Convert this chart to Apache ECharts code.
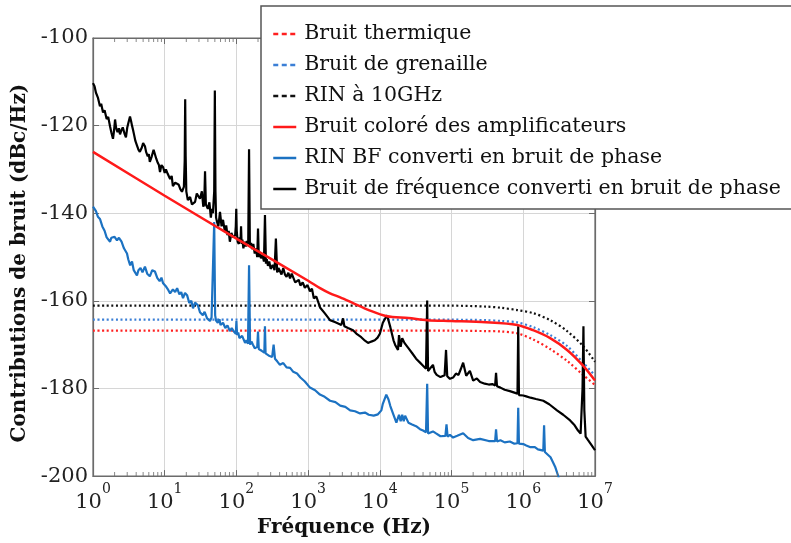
<!DOCTYPE html>
<html><head><meta charset="utf-8">
<script src="https://cdn.jsdelivr.net/npm/echarts@6/dist/echarts.min.js"></script>
<style>html,body{margin:0;padding:0;background:#fff}#c{width:791px;height:543px}</style>
</head><body><div id="c"></div>
<script>
// ---- Data ----
const seriesNames = ['Bruit thermique','Bruit de grenaille','RIN à 10GHz','Bruit coloré des amplificateurs','RIN BF converti en bruit de phase','Bruit de fréquence converti en bruit de phase'];
const xTickExponents = [0,1,2,3,4,5,6,7];
const yTicks = [-200,-180,-160,-140,-120,-100];

const thermFreq = [1, 1e5, 3e5, 5e5, 8.2e5, 1.37e6, 2.37e6, 4.08e6, 6.82e6, 1e7];
const thermDb   = [-166.8, -166.8, -166.9, -167.0, -167.4, -168.8, -171.0, -173.7, -176.9, -179.2];

const shotFreq = [1, 1e5, 3e5, 5e5, 8.2e5, 1.37e6, 2.37e6, 4.08e6, 6.82e6, 1e7];
const shotDb   = [-164.3, -164.3, -164.4, -164.6, -164.9, -166.0, -167.8, -170.3, -174.1, -177.0];

const rinFreq = [1, 1e5, 3e5, 5e5, 8.2e5, 1.37e6, 2.37e6, 4.08e6, 6.82e6, 1e7];
const rinDb   = [-161.1, -161.1, -161.3, -161.6, -162.1, -162.8, -164.4, -166.9, -170.3, -173.9];

const ampFreq = [1, 10, 100, 1000, 1465, 2020, 2800, 4230, 7000, 12600, 25000, 45700, 1e5, 3e5, 8.2e5, 1.37e6, 2.37e6, 4.08e6, 6.82e6, 1e7];
const ampDb   = [-126, -136, -145.8, -155.4, -157.1, -158.3, -159.2, -160.5, -162.1, -163.5, -163.9, -164.4, -164.6, -164.9, -165.5, -166.7, -168.5, -171.2, -174.8, -178.2];

const rinBfFreq = [1,1.05,1.1,1.17,1.25,1.35,1.45,1.55,1.65,1.73,1.8,1.9,2.0,2.16,2.3,2.5,2.7,2.98,3.1,3.3,3.5,3.7,4.1,4.3,4.6,4.9,5.3,5.7,6.2,6.7,7.3,7.9,8.5,9.0,9.5,10.5,11.2,11.9,13,14,14.9,16,17,18,19.2,20.5,22,23.5,24.8,26.5,29,31,34,36,39,42.8,45,47.5,49,50.5,52,55,58,60,65,70,75,81,86,92,98,100,102,106,110,120,132,138,145,150,155,162,170,180,195,200,205,215,225,235,245,250,255,270,290,305,315,330,345,370,404,450,500,560,620,700,780,900,1060,1250,1460,1700,2020,2400,2800,3300,3850,4500,5300,6200,7000,8200,9400,10500,11000,12300,13200,14000,15500,17000,18500,19500,20500,21500,22500,25000,28100,32000,36300,40000,44000,45700,47000,50000,55000,60000,70000,82000,85000,88000,95000,105000,120000,145000,170000,200000,250000,330000,405000,417000,430000,480000,550000,650000,750000,830000,850000,870000,1e6,1.1e6,1.26e6,1.45e6,1.6e6,1.9e6,1.95e6,2.0e6,2.1e6,2.4e6,2.8e6,3.1e6,3.3e6];
const rinBfDb   = [-138.5,-139,-139.5,-140.8,-141.3,-143,-144,-145.5,-145.8,-146.5,-145.6,-146,-145.4,-146.2,-145.6,-146.5,-148,-149.2,-150.5,-151.9,-151,-153,-154.2,-153,-152.5,-153.5,-152.2,-153.8,-154.4,-153,-153.3,-154.8,-155.5,-154.7,-156,-156.8,-157.5,-158.3,-157.4,-158,-157.1,-158.5,-158,-159.4,-158.2,-158.7,-160.5,-160,-161.7,-160.4,-161,-162.6,-163.3,-162.5,-164,-164.6,-163.8,-163.5,-142,-163.3,-164.5,-165,-164.2,-165.5,-165,-166.2,-165.6,-166.9,-166.2,-167,-167.5,-164.6,-167.8,-167.2,-168.5,-168,-169.6,-169,-169.8,-151.9,-170,-169.3,-170,-170.8,-170.5,-167,-171,-170.6,-171.4,-171,-171.8,-165.8,-172,-171.6,-172.6,-172.2,-172.8,-170,-173.2,-173.8,-174.6,-174.2,-175.2,-175.3,-176.2,-176.6,-177.5,-178.4,-179.8,-180.4,-181.4,-181.9,-182.8,-183.1,-183.9,-184.2,-185,-185.2,-185.7,-185.5,-186,-186.2,-185.9,-185,-183.5,-181.4,-182.5,-184,-186,-187.8,-186,-187.5,-186,-187.5,-186.2,-187.8,-188.2,-188.6,-189.3,-189.6,-190,-178.9,-190.3,-190.5,-189.8,-190.2,-190.9,-190.8,-188.2,-191,-190.6,-191.2,-190.8,-190.2,-191.3,-191.8,-191.5,-192,-192,-189.3,-192.1,-191.8,-192.3,-192.1,-192.6,-192.5,-184.4,-192.6,-192.7,-193,-193.4,-193.4,-193.9,-194.2,-188.4,-194.5,-194.6,-195.7,-198,-200.2,-203];

const freqNoiseFreq = [1,1.05,1.1,1.17,1.25,1.3,1.38,1.45,1.55,1.63,1.73,1.8,1.9,1.97,2.03,2.1,2.2,2.3,2.38,2.5,2.6,2.75,2.88,3.0,3.1,3.28,3.4,3.5,3.62,3.73,3.9,4.1,4.3,4.5,4.8,5.0,5.3,5.5,5.8,6.0,6.2,6.6,7.0,7.3,7.6,8.0,8.3,8.6,9.0,9.5,10,10.4,11,11.9,12.5,13.0,14,14.9,15.7,16.5,17.4,18.5,19,19.3,19.6,20,21,22.6,24,26.5,28,31,33,34.5,35.5,36.5,37.5,40,42,44,45.5,47,49,50,51,52,53.7,56,59,62,65,69,72,75,78,81,85,90,96,98,99.5,101,104,108,111,114,116,118,121,125,130,135,140,146,150,154,160,165,172,180,187,195,200,205,212,220,230,242,250,258,265,275,287,300,320,340,355,370,385,400,425,450,475,500,530,560,590,620,660,700,740,780,840,900,980,1060,1130,1200,1300,1465,1700,2020,2400,2900,3070,3200,3600,4230,4800,5500,6200,6840,7600,8500,9300,10000,11000,12600,14000,15500,16500,17900,18500,19500,20500,22000,25000,28100,32000,36300,40000,44000,45700,47000,50000,55000,58000,62000,70000,80000,83700,87000,95000,105000,115000,125000,135000,145000,160000,180000,200000,225000,250000,290000,330000,370000,405000,417000,430000,480000,550000,650000,770000,830000,850000,870000,1e6,1.1e6,1.26e6,1.5e6,1.9e6,2.3e6,2.95e6,3.6e6,4.5e6,5.2e6,5.8e6,6.3e6,6.7e6,6.9e6,7.1e6,7.4e6,8e6,9e6,1e7];
const freqNoiseDb   = [-110.3,-111,-112.5,-113.6,-115.6,-115,-117,-116.5,-118.5,-118,-120.2,-121.5,-123,-121,-118.6,-120.5,-121.5,-120.6,-122,-121,-120.4,-121.8,-122.7,-120.5,-119.5,-117.9,-119,-120,-121,-122,-123.5,-124.5,-125.5,-126,-125,-124,-124.7,-126,-127,-126.5,-128.3,-127,-125.5,-125.9,-127.5,-128.5,-129,-130.6,-129,-129.5,-130.8,-130,-131,-132.2,-131.5,-133.8,-133,-132.9,-133.5,-134.5,-135.1,-134,-128,-114,-127,-135,-137,-136.3,-138,-137.4,-135.5,-136.7,-135,-138.5,-138,-130.4,-138,-139,-137.5,-141,-139,-140,-135,-112,-135,-141,-142,-143,-139.7,-143,-141.5,-144.2,-142.8,-145,-144,-146.5,-144.5,-145.5,-145,-143,-139,-144,-146.5,-147,-145.5,-146.5,-143,-147,-146,-148,-146.5,-147.6,-146.3,-147,-125.4,-147.5,-146.8,-148.2,-147,-149.2,-148,-150,-143.5,-150,-149,-150.3,-149.5,-151,-140.4,-151.5,-150.5,-152,-151,-152.7,-151.8,-153,-145.8,-153.5,-152.5,-153,-154,-152.5,-154,-154.5,-153.6,-154.9,-153.8,-154.2,-155.8,-156,-155.2,-156.5,-155.8,-157,-156.4,-157.8,-157.2,-159.4,-159,-161.5,-162.8,-164.4,-164.9,-165.5,-164,-165.8,-166.2,-166.7,-167.6,-168.3,-169.1,-169.6,-169.3,-169,-168.4,-167.5,-165,-163.3,-166,-169,-170.2,-171.2,-167.8,-170.5,-168.5,-169.6,-170.8,-171.9,-173.2,-174.1,-174.8,-175.5,-159.9,-176,-176.4,-174.6,-176.2,-176.9,-177.4,-177,-171.2,-177.2,-177.8,-177.5,-176.6,-176.9,-175.5,-174.1,-177.1,-176,-178.2,-177.7,-178.5,-178.9,-179.1,-179,-179.3,-176.4,-179.5,-179.8,-180.3,-180.6,-181,-181.2,-165.8,-181.5,-181.6,-181.8,-182.1,-182.4,-182.8,-183.6,-185,-186,-187.3,-188.4,-189.6,-190.3,-180,-165.8,-185,-191,-191.8,-193,-194.1];

// ---- helpers ----
function pairs(xs, ys){ return xs.map((x,i)=>[x, ys[i]]); }
const minorFreqs = [];
for (let e = 0; e < 7; e++) for (let k = 2; k <= 9; k++) minorFreqs.push(k * Math.pow(10, e));

const FONT = 'DejaVu Serif';
const chart = echarts.init(document.getElementById('c'), null, {renderer:'canvas'});

const dotted = [2, 2.6];
const axisGray = '#6b6b6b';
const option = {
  animation: false,
  backgroundColor: '#fff',
  grid: { left: 93, top: 38, right: 196, bottom: 64, show: true, borderColor: axisGray, borderWidth: 1.2, backgroundColor: 'transparent' },
  xAxis: [{
    type: 'log', logBase: 10, min: 1, max: 1e7, splitNumber: 7,
    name: 'Fréquence (Hz)', nameLocation: 'middle', nameGap: 37,
    nameTextStyle: { fontFamily: FONT, fontWeight: 'bold', fontSize: 20, color: '#111' },
    axisLine: { show: true, lineStyle: { color: axisGray, width: 1.2 } },
    axisTick: { show: true, inside: true, length: 6, lineStyle: { color: axisGray } },
    splitLine: { show: true, lineStyle: { color: '#d6d6d6', width: 1 } },
    axisLabel: {
      margin: 6,
      formatter: function(v){ const n = Math.round(Math.log10(v)); return '{b|10}{s|' + n + '}'; },
      rich: {
        b: { fontFamily: FONT, fontSize: 21, color: '#222', padding: [10,0,0,0], verticalAlign: 'bottom' },
        s: { fontFamily: FONT, fontSize: 14, color: '#222', verticalAlign: 'top' }
      }
    }
  }, {
    type: 'log', logBase: 10, min: 1, max: 1e7, splitNumber: 7, position: 'top',
    axisLine: { show: true, lineStyle: { color: axisGray, width: 1.2 } },
    axisTick: { show: true, inside: true, length: 6, lineStyle: { color: axisGray } },
    axisLabel: { show: false }, splitLine: { show: false }
  }],
  yAxis: [{
    type: 'value', min: -200, max: -100, interval: 20,
    name: 'Contributions de bruit (dBc/Hz)', nameLocation: 'middle', nameGap: 46,
    nameTextStyle: { fontFamily: FONT, fontWeight: 'bold', fontSize: 20, color: '#111', padding: [0, 12, 0, 0] },
    axisLine: { show: true, lineStyle: { color: axisGray, width: 1.2 } },
    axisTick: { show: true, inside: true, length: 6, lineStyle: { color: axisGray } },
    splitLine: { show: true, lineStyle: { color: '#d6d6d6', width: 1 } },
    axisLabel: { fontFamily: FONT, fontSize: 21, color: '#222', margin: 5 }
  }, {
    type: 'value', min: -200, max: -100, interval: 20, position: 'right',
    axisLine: { show: true, lineStyle: { color: axisGray, width: 1.2 } },
    axisTick: { show: true, inside: true, length: 6, lineStyle: { color: axisGray } },
    axisLabel: { show: false }, splitLine: { show: false }
  }],
  legend: {
    orient: 'vertical', left: 261, top: 6, z: 20,
    padding: [16, 30, 8, 11],
    itemGap: 7, itemWidth: 23, itemHeight: 14,
    backgroundColor: '#fff', borderColor: '#555', borderWidth: 1.5,
    itemStyle: { opacity: 0 },
    textStyle: { fontFamily: FONT, fontSize: 20.5, color: '#111', lineHeight: 24, padding: [0,0,0,3] },
    data: [
      { name: seriesNames[0], lineStyle: { type: [5,3.5], width: 2.5 } },
      { name: seriesNames[1], lineStyle: { type: [5,3.5], width: 2.5 } },
      { name: seriesNames[2], lineStyle: { type: [5,3.5], width: 2.5 } },
      { name: seriesNames[3], lineStyle: { width: 2.5 } },
      { name: seriesNames[4], lineStyle: { width: 2.5 } },
      { name: seriesNames[5], lineStyle: { width: 2.5 } }
    ],
    selectedMode: false
  },
  series: [
    { name: seriesNames[0], type: 'line', symbol: 'none', showSymbol: false, smooth: 0.3, data: pairs(thermFreq, thermDb), lineStyle: { color: '#ff2020', width: 2.2, type: dotted }, itemStyle: { color: '#ff2020' }, z: 3 },
    { name: seriesNames[1], type: 'line', symbol: 'none', showSymbol: false, smooth: 0.3, data: pairs(shotFreq, shotDb), lineStyle: { color: '#3b7fd6', width: 2.2, type: dotted }, itemStyle: { color: '#3b7fd6' }, z: 3 },
    { name: seriesNames[2], type: 'line', symbol: 'none', showSymbol: false, smooth: 0.3, data: pairs(rinFreq, rinDb), lineStyle: { color: '#111', width: 2.2, type: dotted }, itemStyle: { color: '#111' }, z: 3 },
    { name: seriesNames[4], type: 'line', symbol: 'none', showSymbol: false, data: pairs(rinBfFreq, rinBfDb), lineStyle: { color: '#1c72c2', width: 2.2 }, itemStyle: { color: '#1c72c2' }, z: 4 },
    { name: seriesNames[5], type: 'line', symbol: 'none', showSymbol: false, data: pairs(freqNoiseFreq, freqNoiseDb), lineStyle: { color: '#000', width: 2.2 }, itemStyle: { color: '#000' }, z: 4 },
    { name: seriesNames[3], type: 'line', symbol: 'none', showSymbol: false, smooth: 0.3, data: pairs(ampFreq, ampDb), lineStyle: { color: '#ff1a1a', width: 2.5 }, itemStyle: { color: '#ff1a1a' }, z: 5 },
    { name: 'minorBottom', type: 'scatter', silent: true, symbol: 'rect', symbolSize: [1, 4], symbolOffset: [0, -2], data: minorFreqs.map(f => [f, -200]), itemStyle: { color: axisGray }, z: 6 },
    { name: 'minorTop', type: 'scatter', silent: true, symbol: 'rect', symbolSize: [1, 4], symbolOffset: [0, 2], data: minorFreqs.map(f => [f, -100]), itemStyle: { color: axisGray }, z: 6 }
  ]
};
chart.setOption(option);
</script>
</body></html>
